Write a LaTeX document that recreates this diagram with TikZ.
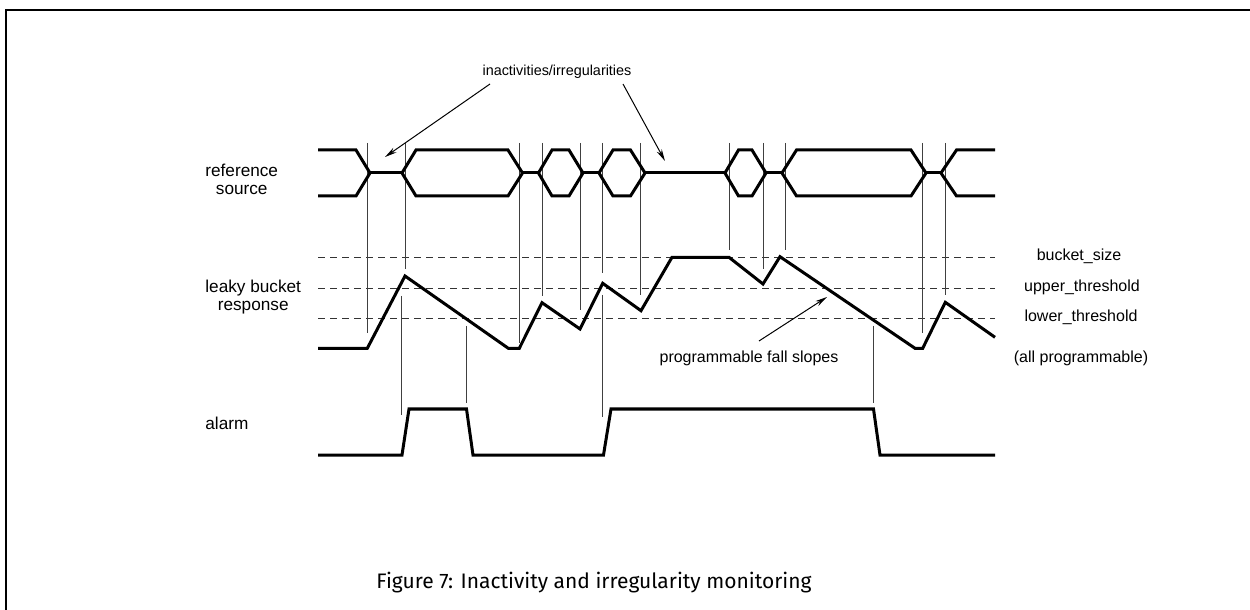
\documentclass[tikz,border=0pt]{standalone}
\usepackage{fontspec}
\setmainfont{Liberation Sans}
\newfontfamily\capfont{Fira Sans}
\usetikzlibrary{arrows.meta}
\begin{document}
\begin{tikzpicture}[x=0.5pt,y=-0.5pt,
  wave/.style={line width=1.5pt,line join=miter},
  guide/.style={line width=0.5pt,black!75},
  thr/.style={line width=0.6pt,black!80,dash pattern=on 3.5pt off 2.5pt},
  lbl/.style={font=\fontsize{8.6pt}{9pt}\selectfont,align=center,inner sep=0pt},
  slbl/.style={font=\fontsize{8pt}{9pt}\selectfont,inner sep=0pt},
  callout/.style={line width=0.5pt,-{Stealth[length=6pt,width=2.8pt]}}]
\useasboundingbox (0,0) rectangle (1250,610);
% frame
\draw[line width=1pt] (6,610) -- (6,10) -- (1250,10);

% labels
\node[lbl,anchor=west] (refsrc) at (205,179) {reference\\source};
\node[lbl,anchor=west] (lbresp) at (205,297) {leaky bucket\\response};
\node[lbl,anchor=west] (alarmlbl) at (205,423) {alarm};
\node[slbl] (bsize) at (1079,256) {bucket\_size};
\node[slbl] (uthr) at (1082,287) {upper\_threshold};
\node[slbl] (lthr) at (1081,317) {lower\_threshold};
\node[slbl] (allp) at (1081,358) {(all programmable)};
\node[slbl,font=\fontsize{7.2pt}{9pt}\selectfont] (inact) at (557,72) {inactivities/irregularities};
\node[slbl] (pfs) at (749,358) {programmable fall slopes};
\node[font=\capfont\fontsize{10.5pt}{13pt}\selectfont,inner sep=0pt] (cap) at (594,583) {Figure 7: Inactivity and irregularity monitoring};

% thresholds
\draw[thr] (318,257.3) -- (995,257.3);
\draw[thr] (318,288.3) -- (995,288.3);
\draw[thr] (318,318.7) -- (995,318.7);

% vertical guide lines
\foreach \x/\yb in {367.3/333,405/269,519.3/343,542/296,580.7/310,602.7/273,640.7/295,729/250,763/269,785.7/250,922.7/333,945.3/295}
  \draw[guide] (\x,143) -- (\x,\yb);
\foreach \x/\yt/\yb in {401.7/296/415,466.7/326/403,602.7/295/417,873.3/326/403}
  \draw[guide] (\x,\yt) -- (\x,\yb);

% callouts
\coordinate (t1) at (490,84);
\coordinate (h1) at (385,157);
\coordinate (t2) at (623,84);
\coordinate (h2) at (665,161);
\coordinate (t3) at (759,341);
\coordinate (h3) at (827,297);
\draw[callout] (t1) -- (h1);
\draw[callout] (t2) -- (h2);
\draw[callout] (t3) -- (h3);

% reference source
\draw[wave] (318,150) -- (356,150) -- (370,173) -- (356,196) -- (318,196);
\draw[wave] (370,173) -- (402,173);
\draw[wave] (402,173) -- (416,150) -- (508,150) -- (522.5,173) -- (508,196) -- (416,196) -- cycle;
\draw[wave] (522.5,173) -- (538.5,173);
\draw[wave] (538.5,173) -- (552,150) -- (569,150) -- (583,173) -- (569,196) -- (552,196) -- cycle;
\draw[wave] (583,173) -- (599,173);
\draw[wave] (599,173) -- (613,150) -- (630.5,150) -- (645,173) -- (630.5,196) -- (613,196) -- cycle;
\draw[wave] (645,173) -- (725,173);
\draw[wave] (725,173) -- (738.5,150) -- (752,150) -- (766,173) -- (752,196) -- (738.5,196) -- cycle;
\draw[wave] (766,173) -- (782,173);
\draw[wave] (782,173) -- (796.5,150) -- (911,150) -- (926,173) -- (911,196) -- (796.5,196) -- cycle;
\draw[wave] (926,173) -- (941,173);
\draw[wave] (995,150) -- (956.5,150) -- (941,173) -- (956.5,196) -- (995,196);

% leaky bucket response
\draw[wave] (318,348.3) -- (367.3,348.3) -- (405,276) -- (508.3,348.3) -- (519.3,348.3) -- (542,302.7) -- (580,329) -- (602.7,283.3) -- (641,310.7) -- (672,257.3) -- (729,257.3) -- (763,284) -- (780,256.7) -- (915,348.3) -- (922.7,348.3) -- (945.3,302.3) -- (995,337.3);

% alarm
\draw[wave] (318,455) -- (402,455) -- (409,409) -- (466.5,409) -- (473,455) -- (603.5,455) -- (611,409) -- (873.5,409) -- (880,455) -- (995,455);
\end{tikzpicture}
\end{document}
